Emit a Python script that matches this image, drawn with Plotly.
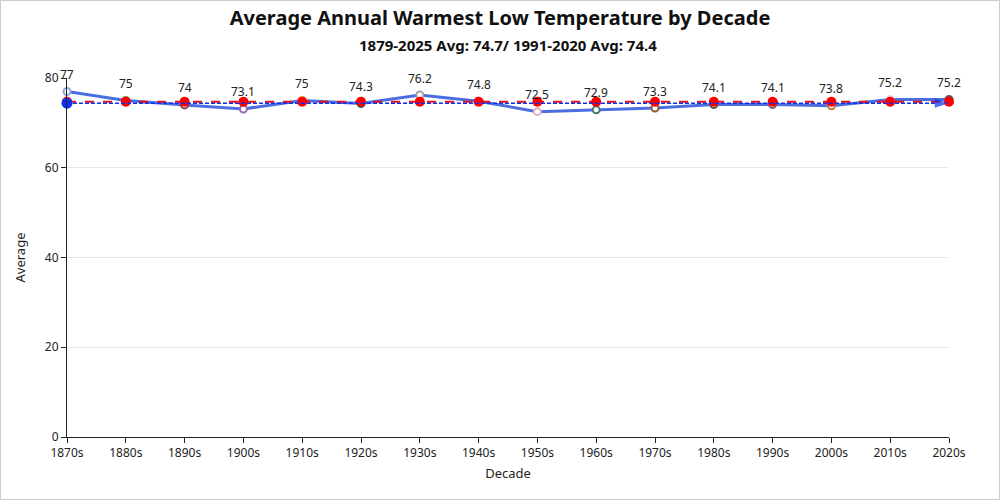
import plotly.graph_objects as go

decades = ["1870s", "1880s", "1890s", "1900s", "1910s", "1920s", "1930s", "1940s",
           "1950s", "1960s", "1970s", "1980s", "1990s", "2000s", "2010s", "2020s"]
averages = [77, 75, 74, 73.1, 75, 74.3, 76.2, 74.8, 72.5, 72.9, 73.3, 74.1, 74.1, 73.8, 75.2, 75.2]
marker_colors = ["#8fa8e0", "#5aa05a", "#8a3a4a", "#9a6aa8", "#e0a040", "#3a6a4a", "#a0a0a0", "#8090a8",
                 "#e0b0c0", "#407a70", "#8a5a30", "#506050", "#6a6a90", "#c08040", "#d8d8f0", "#555555"]
long_avg = 74.7
normal_avg = 74.4
title = "Average Annual Warmest Low Temperature by Decade"
subtitle = "1879-2025 Avg: 74.7/ 1991-2020 Avg: 74.4"

n = len(decades)
fig = go.Figure()

fig.add_trace(go.Scatter(
    x=decades, y=averages, mode="lines+markers",
    line=dict(color="#4a6ee0", width=3),
    marker=dict(size=7, color="white", line=dict(color=marker_colors, width=2)),
    cliponaxis=False, showlegend=False, hoverinfo="skip"))

fig.add_trace(go.Scatter(
    x=decades, y=[long_avg] * n, mode="lines+markers",
    line=dict(color="#ee1111", width=2, dash="dash"),
    marker=dict(size=10, color="#ff0000"),
    cliponaxis=False, showlegend=False, hoverinfo="skip"))

fig.add_trace(go.Scatter(
    x=decades, y=[normal_avg] * n, mode="lines+markers",
    line=dict(color="#1030f0", width=1.5, dash="4px,2px"),
    marker=dict(size=[0] * (n - 1) + [15], symbol="arrow",
                angleref="previous", color="#1030f0", line=dict(width=0)),
    cliponaxis=False, showlegend=False, hoverinfo="skip"))

fig.add_trace(go.Scatter(
    x=decades[:1], y=[normal_avg], mode="markers",
    marker=dict(size=11, color="#1030f0", line=dict(width=0)),
    cliponaxis=False, showlegend=False, hoverinfo="skip"))

labels = [dict(x=d, y=v, text=str(v), xref="x", yref="y", yshift=17, yanchor="middle",
               showarrow=False, font=dict(size=12, color="#222", family="Noto Sans"))
          for d, v in zip(decades, averages)]

fig.update_layout(
    width=1000, height=500,
    margin=dict(l=67, r=51, t=78, b=63),
    paper_bgcolor="white", plot_bgcolor="white",
    font=dict(family="Noto Sans", size=12, color="#222"),
    title=dict(text="<b>" + title + "</b>", x=0.5, xanchor="center", y=0.965, yanchor="middle",
               font=dict(size=20, color="#111", family="Noto Sans")),
    annotations=[dict(text="<b>" + subtitle + "</b>", xref="paper", yref="paper",
                      x=0.5, y=1 + 33 / 359, xanchor="center", yanchor="middle",
                      showarrow=False, font=dict(size=15, color="#111", family="Noto Sans"))] + labels,
    shapes=[dict(type="rect", xref="paper", yref="paper",
                 x0=-66.5 / 882, x1=1 + 50.5 / 882, y0=-62.5 / 359, y1=1 + 77.5 / 359,
                 line=dict(color="#cccccc", width=1), fillcolor="rgba(0,0,0,0)", layer="below")],
)

fig.update_xaxes(
    type="category", range=[0, n - 1], showline=True, linecolor="#222", linewidth=1,
    ticks="outside", ticklen=5, tickcolor="#222", showgrid=False,
    title=dict(text="Decade", font=dict(size=13), standoff=8), tickfont=dict(size=12))
fig.update_yaxes(
    range=[0, 80], tickvals=[0, 20, 40, 60, 80], showline=True, linecolor="#222", linewidth=1,
    ticks="outside", ticklen=5, tickcolor="#222", showgrid=True, gridcolor="#e8e8e8",
    zeroline=False, title=dict(text="Average", font=dict(size=13), standoff=16), tickfont=dict(size=12))

fig.write_html("out.html", config={"displayModeBar": False},
               post_script="document.body.style.margin='0';document.body.style.padding='0';")
